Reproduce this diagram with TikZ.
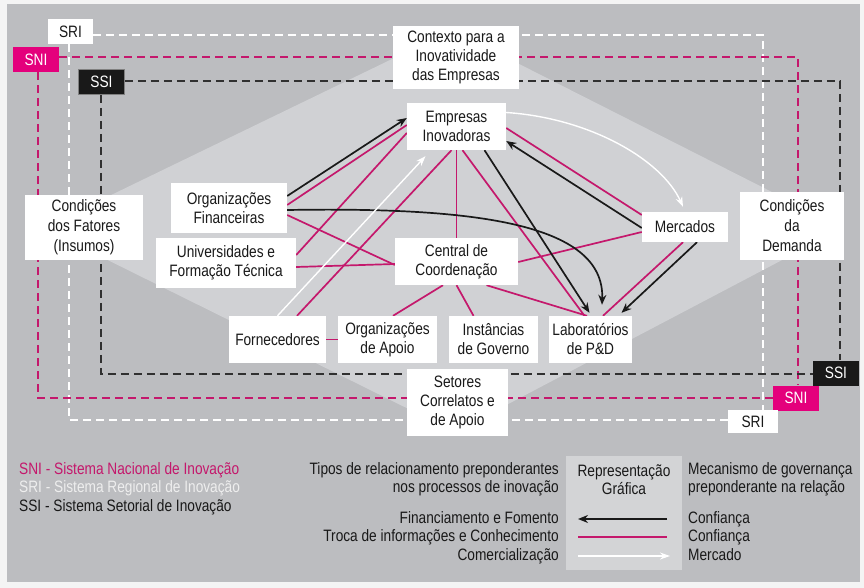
\documentclass[tikz,border=0pt]{standalone}
\usepackage{fontspec}
\setmainfont{Liberation Sans}[FakeStretch=0.83]
\usetikzlibrary{arrows.meta}
\definecolor{pagebg}{RGB}{244,244,244}
\definecolor{outergray}{RGB}{188,189,192}
\definecolor{innergray}{RGB}{208,209,212}
\definecolor{repgray}{RGB}{211,212,214}
\definecolor{mag}{RGB}{196,24,108}
\definecolor{magfill}{RGB}{228,0,124}
\definecolor{ink}{RGB}{25,25,25}
\definecolor{sritext}{RGB}{238,238,238}
\pgfdeclarelayer{bg}
\pgfdeclarelayer{wires}
\pgfsetlayers{bg,wires,main}
\begin{document}
\begin{tikzpicture}[x=1pt,y=-1pt,
  every node/.style={font=\fontsize{16.5}{19}\selectfont, text=ink},
  box/.style={fill=white, align=center, inner sep=0pt},
  tag/.style={inner sep=0pt, minimum width=46pt, minimum height=25pt},
  sysline/.style={line width=2pt, dash pattern=on 8pt off 5pt},
  info/.style={draw=mag, line width=1.7pt},
  fin/.style={draw=ink, line width=1.7pt, -{Stealth[length=10pt,width=8pt]}},
  com/.style={draw=white, line width=1.4pt, -{Stealth[length=10pt,width=7pt]}},
  leg/.style={inner sep=0pt, text height=11.5pt, text depth=3pt, font=\fontsize{16.5}{18}\selectfont},
]
\useasboundingbox (0,0) rectangle (864,588);

% ---------- boxes of the innovation system ----------
\node[box, minimum width=126pt, minimum height=63pt] (ctx) at (456,57.5) {Contexto para a\\Inovatividade\\das Empresas};
\node[box, minimum width=99pt, minimum height=47pt] (ei) at (456.5,126.5) {Empresas\\Inovadoras};
\node[box, minimum width=116pt, minimum height=50pt] (of) at (229,208) {Organizações\\Financeiras};
\node[box, minimum width=140pt, minimum height=50pt] (univ) at (226,263) {Universidades e\\Formação Técnica};
\node[box, minimum width=118pt, minimum height=65pt, font=\fontsize{16.5}{20}\selectfont] (cf) at (84,227.5) {Condições\\dos Fatores\\(Insumos)};
\node[box, minimum width=97pt, minimum height=47pt] (forn) at (277.5,339.5) {Fornecedores};
\node[box, minimum width=99pt, minimum height=47pt] (oa) at (387.5,339.5) {Organizações\\de Apoio};
\node[box, minimum width=123pt, minimum height=47pt] (cc) at (456.5,261.5) {Central de\\Coordenação};
\node[box, minimum width=89pt, minimum height=47pt] (inst) at (493.5,339.5) {Instâncias\\de Governo};
\node[box, minimum width=83pt, minimum height=47pt] (lab) at (590.5,339.5) {Laboratórios\\de P\&D};
\node[box, minimum width=86pt, minimum height=30pt] (merc) at (685,227) {Mercados};
\node[box, minimum width=104pt, minimum height=68pt, font=\fontsize{16.5}{20}\selectfont] (cd) at (792,226) {Condições\\da\\Demanda};
\node[box, minimum width=101pt, minimum height=67pt] (set) at (457.5,402.5) {Setores\\Correlatos e\\de Apoio};

% ---------- system tags ----------
\node[tag, fill=white, minimum width=45pt] (sriA) at (70.5,31.5) {SRI};
\node[tag, fill=magfill, text=white] (sniA) at (36,59.5) {SNI};
\node[tag, fill=ink, text=white, draw=gray, line width=0.6pt] (ssiA) at (101.5,82) {SSI};
\node[tag, fill=ink, text=white] (ssiB) at (836,373) {SSI};
\node[tag, fill=magfill, text=white] (sniB) at (796,398) {SNI};
\node[tag, fill=white, minimum width=50pt, minimum height=23pt] (sriB) at (753,421.5) {SRI};

% ---------- legend ----------
\node[leg, anchor=west, text=mag] (lsni) at (19,470) {SNI - Sistema Nacional de Inovação};
\node[leg, anchor=west, text=sritext] (lsri) at (19,488.5) {SRI - Sistema Regional de Inovação};
\node[leg, anchor=west] (lssi) at (19,507) {SSI - Sistema Setorial de Inovação};

\node[leg, anchor=east] (ltip1) at (559,470) {Tipos de relacionamento preponderantes};
\node[leg, anchor=east] (ltip2) at (559,488) {nos processos de inovação};
\node[leg, anchor=east] (lfin) at (559,519) {Financiamento e Fomento};
\node[leg, anchor=east] (linf) at (559,537) {Troca de informações e Conhecimento};
\node[leg, anchor=east] (lcom) at (559,556) {Comercialização};

\node[leg, anchor=west] (lmec1) at (688,470) {Mecanismo de governança};
\node[leg, anchor=west] (lmec2) at (688,488) {preponderante na relação};
\node[leg, anchor=west] (lconf1) at (688,519) {Confiança};
\node[leg, anchor=west] (lconf2) at (688,537) {Confiança};
\node[leg, anchor=west] (lmerc) at (688,556) {Mercado};

\node[align=center, inner sep=0pt, font=\fontsize{16.5}{18}\selectfont] (rept) at (624,480) {Representação\\Gráfica};
\coordinate (finR) at (667,519);
\coordinate (finL) at (578,519);
\coordinate (infL) at (578,537);
\coordinate (infR) at (667,537);
\coordinate (comL) at (578,556);
\coordinate (comR) at (670,556);

\begin{pgfonlayer}{bg}
  \fill[pagebg] (0,0) rectangle (864,588);
  \fill[outergray] (7,4) rectangle (860,582);
  \fill[innergray] (43,228) -- (452,30) -- (843,228) -- (455,432) -- cycle;
  \fill[repgray] (566,456) rectangle (682,570);
\end{pgfonlayer}

\begin{pgfonlayer}{wires}
  % system boundaries
  \coordinate (sriNE) at (763,35);
  \coordinate (sriSW) at (69,420);
  \coordinate (sniNE) at (798,57);
  \coordinate (sniSW) at (38,398);
  \coordinate (ssiNE) at (840,81);
  \coordinate (ssiSW) at (101,374);
  \draw[sysline, white] (sriA.east |- sriNE) -- (sriNE) -- (sriNE |- sriB.north);
  \draw[sysline, white] (sriSW |- sriA.south) -- (sriSW) -- (sriSW -| sriB.west);
  \draw[sysline, mag] (sniA.east |- sniNE) -- (sniNE) -- (sniNE |- sniB.north);
  \draw[sysline, mag] (sniSW |- sniA.south) -- (sniSW) -- (sniSW -| sniB.west);
  \draw[sysline, ink!90] (ssiA.east |- ssiNE) -- (ssiNE) -- (ssiNE |- ssiB.north);
  \draw[sysline, ink!90] (ssiSW |- ssiA.south) -- (ssiSW) -- (ssiSW -| ssiB.west);

  % information and knowledge exchange
  \draw[info] ([yshift=3pt]of.east) -- ([yshift=1.5pt]ei.west);
  \draw[info] ([yshift=8pt]univ.east) -- ([yshift=-6.5pt]ei.west);
  \draw[info] ([xshift=19.5pt]forn.north) -- ([xshift=-5pt]ei.south);
  \draw[info] (ei.south) -- (cc.north);
  \draw[info] ([xshift=6pt]ei.south) -- ([xshift=-6pt]lab.north);
  \draw[info] ([yshift=-1.5pt]ei.east) -- ([yshift=12pt]merc.west);
  \draw[info] ([xshift=-2pt]merc.south) -- ([xshift=12.5pt]lab.north);
  \draw[info] ([yshift=-7pt]of.east) -- ([yshift=-3.5pt]cc.west);
  \draw[info] ([yshift=-4pt]univ.east) -- ([yshift=-2.5pt]cc.west);
  \draw[info] ([yshift=-0.5pt]cc.east) -- ([yshift=-5pt]merc.west);
  \draw[info] ([xshift=30pt]cc.south) -- ([xshift=-3.5pt]lab.north);
  \draw[info] (cc.south) -- ([xshift=-20pt]inst.north);
  \draw[info] ([xshift=-13.5pt]cc.south) -- ([xshift=5.5pt]oa.north);
  \draw[info] (forn.east) -- (oa.west);

  % financing and promotion
  \draw[fin] ([yshift=12pt]of.east) -- ([yshift=8.5pt]ei.west);
  \draw[fin] ([xshift=28pt]ei.south) -- ([xshift=-1pt,yshift=3pt]lab.north);
  \draw[fin] ([yshift=-1pt]merc.west) -- ([yshift=-14.5pt]ei.east);
  \draw[fin] ([xshift=12pt]merc.south) -- ([xshift=31pt,yshift=3pt]lab.north);
  \draw[fin] ([yshift=-2pt]of.east) .. controls (470,207) and (605,222) .. ([xshift=11.5pt,yshift=11pt]lab.north);

  % commercialisation
  \draw[com] (forn.north) -- ([xshift=-31pt,yshift=-6pt]ei.south);
  \draw[com] ([yshift=14pt]ei.east) .. controls (590,118) and (662,160) .. ([xshift=-2pt,yshift=5pt]merc.north);

  % legend lines
  \draw[fin] (finR) -- (finL);
  \draw[info] (infL) -- (infR);
  \draw[com] (comL) -- (comR);
\end{pgfonlayer}
\end{tikzpicture}
\end{document}
